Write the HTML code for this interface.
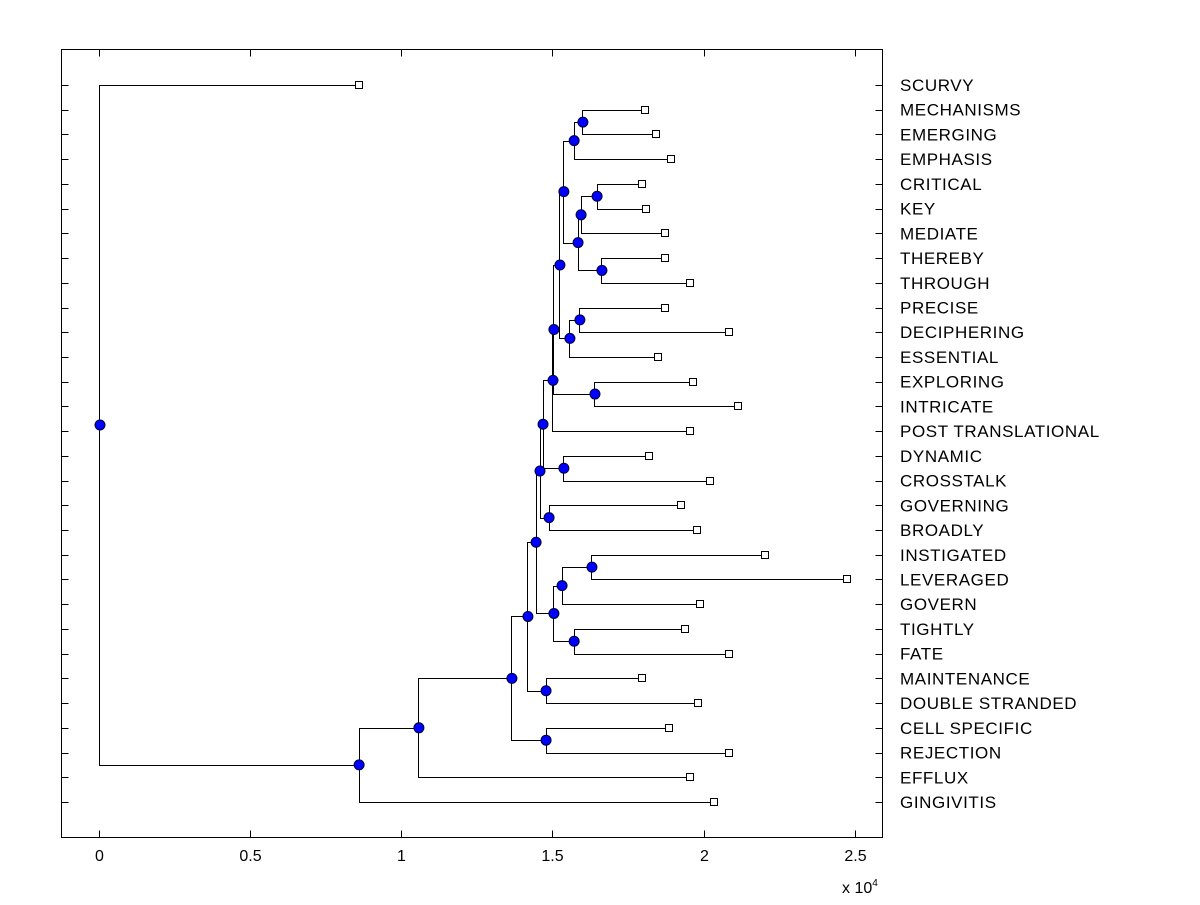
<!DOCTYPE html>
<html><head><meta charset="utf-8"><style>
body{margin:0;background:#fff;}
svg text{font-family:"Liberation Sans",Arial,sans-serif;font-size:16px;fill:#000;}
svg text.leaf{font-size:17px;letter-spacing:0.6px;}
</style></head><body>
<svg id="chart" width="1200" height="900" viewBox="0 0 1200 900" xmlns="http://www.w3.org/2000/svg">
<rect x="0" y="0" width="1200" height="900" fill="#fff"/>
<rect x="61.5" y="49.5" width="821" height="788" fill="none" stroke="#000" stroke-width="1"/>
<g id="ticks"></g>
<g id="lines"></g>
<g id="marks"></g>
<g id="labels"></g>
<text x="842" y="893" font-size="15">x 10<tspan dy="-7" font-size="10">4</tspan></text>
</svg>
<script>
const leafLabels = ["SCURVY","MECHANISMS","EMERGING","EMPHASIS","CRITICAL","KEY","MEDIATE","THEREBY","THROUGH","PRECISE","DECIPHERING","ESSENTIAL","EXPLORING","INTRICATE","POST TRANSLATIONAL","DYNAMIC","CROSSTALK","GOVERNING","BROADLY","INSTIGATED","LEVERAGED","GOVERN","TIGHTLY","FATE","MAINTENANCE","DOUBLE STRANDED","CELL SPECIFIC","REJECTION","EFFLUX","GINGIVITIS"];
const leafHeights = [0.858,1.805,1.844,1.894,1.798,1.811,1.874,1.871,1.954,1.874,2.083,1.848,1.964,2.113,1.954,1.821,2.023,1.924,1.977,2.205,2.474,1.990,1.940,2.086,1.795,1.983,1.887,2.083,1.954,2.036];
const mergeLeft  = [1,30,4,32,7,33,31,9,37,36,12,39,41,15,42,17,44,19,47,22,48,46,24,51,26,53,55,56,0];
const mergeRight = [2,3,5,6,8,34,35,10,11,38,13,40,14,16,43,18,45,20,21,23,49,50,25,52,27,54,28,29,57];
const mergeHeights = [1.599,1.570,1.646,1.593,1.662,1.583,1.536,1.589,1.556,1.523,1.639,1.503,1.500,1.536,1.467,1.487,1.457,1.629,1.530,1.570,1.503,1.444,1.477,1.417,1.477,1.364,1.056,0.858,0];
const xTicks = [0,0.5,1,1.5,2,2.5];
const xTickLabels = ["0","0.5","1","1.5","2","2.5"];

const NS="http://www.w3.org/2000/svg";
const X0=61.5,X1=882.5,Y0=49.5,Y1=837.5;
const xMin=-0.1258, xMax=2.5927;
function xs(v){return X0+(v-xMin)/(xMax-xMin)*(X1-X0);}
const rowTop=85, rowStep=(802-85)/(leafLabels.length-1);
function ys(r){return rowTop+r*rowStep;}
function mk(tag,attrs,parent){const e=document.createElementNS(NS,tag);for(const k in attrs)e.setAttribute(k,attrs[k]);document.getElementById(parent).appendChild(e);return e;}

const nx=[],ny=[];
leafLabels.forEach((l,i)=>{nx[i]=leafHeights[i];ny[i]=i;});
mergeHeights.forEach((h,j)=>{const id=leafLabels.length+j;nx[id]=h;ny[id]=(ny[mergeLeft[j]]+ny[mergeRight[j]])/2;});

leafLabels.forEach((l,i)=>{
  const y=Math.round(ys(i))+0.5;
  const t1=mk('line',{x1:X0,y1:y,x2:X0+7,y2:y,stroke:'#000'},'ticks');
  
  
  const t2=mk('line',{x1:X1-7,y1:y,x2:X1,y2:y,stroke:'#000'},'ticks');
  
  
  const tx=mk('text',{x:900,y:ys(i)+6,'class':'leaf'},'labels');
  tx.textContent=l;
  
  
});
xTicks.forEach((v,i)=>{
  const x=Math.round(xs(v))+0.5;
  const a=mk('line',{x1:x,y1:Y1,x2:x,y2:Y1-7,stroke:'#000'},'ticks');
  
  
  const b=mk('line',{x1:x,y1:Y0,x2:x,y2:Y0+7,stroke:'#000'},'ticks');
  
  
  const t=mk('text',{x:x,y:861,'text-anchor':'middle'},'labels');
  t.textContent=xTickLabels[i];
  
  
});

mergeHeights.forEach((h,j)=>{
  const px=Math.round(xs(h))+0.5;
  [mergeLeft[j],mergeRight[j]].forEach(c=>{
    const cy=Math.round(ys(ny[c]))+0.5, py=ys(ny[leafLabels.length+j]);
    const p=mk('path',{d:`M${px},${py} V${cy} H${xs(nx[c])}`,fill:'none',stroke:'#000','stroke-width':1},'lines');
    
    
  });
});
mergeHeights.forEach((h,j)=>{
  const id=leafLabels.length+j;
  const c=mk('circle',{cx:xs(h)+0.5,cy:ys(ny[id]),r:5,fill:'#0000ff',stroke:'#000033','stroke-width':1},'marks');
  
  
});
leafLabels.forEach((l,i)=>{
  const r=mk('rect',{x:Math.round(xs(leafHeights[i]))-3.5,y:Math.round(ys(i))-3.5,width:7,height:7,fill:'#fff',stroke:'#000'},'marks');
  
  
});
</script>
</body></html>
